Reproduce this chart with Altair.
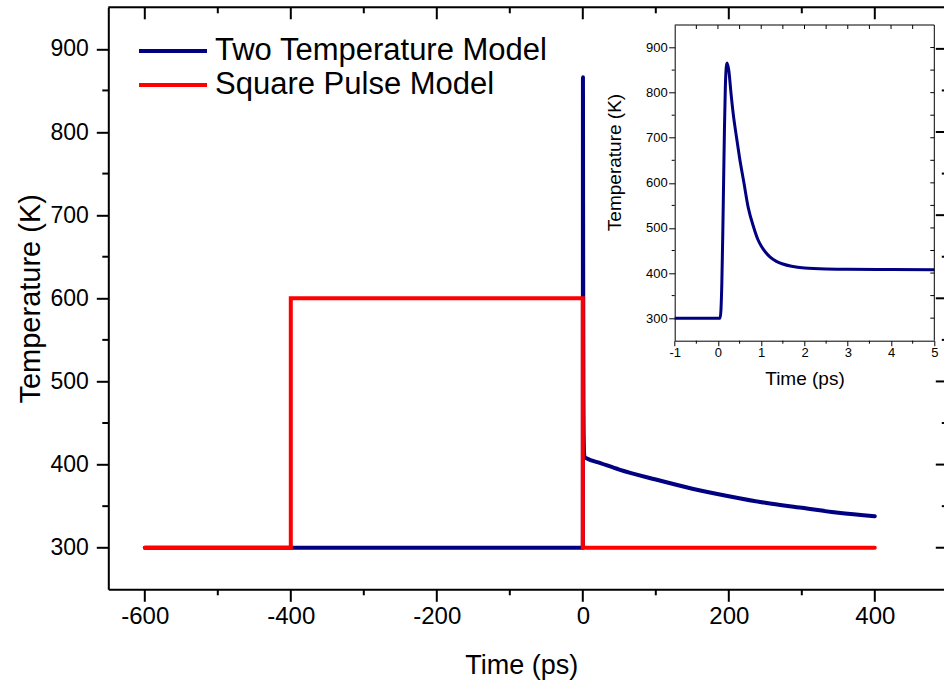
import altair as alt
import pandas as pd

NAVY = "#000080"
RED = "#ff0000"
FONT = "Liberation Sans"

series_names = ["Two Temperature Model", "Square Pulse Model"]
series_colors = [NAVY, RED]

# Two temperature model over the full time range (ps, K)
ttm_time = [-600, 0.05, 0.07, 0.09, 0.11, 0.13, 0.15, 0.17, 0.19, 0.21, 0.25,
            0.30, 0.35, 0.43, 0.50, 0.60, 0.70, 0.83, 0.92, 1.00, 1.10, 1.20, 1.35,
            1.50, 1.70, 2.00, 2.50, 3.00, 5.00, 25, 50, 100, 150, 200, 250, 300, 350, 400]
ttm_temp = [300, 300, 320, 380, 480, 600, 720, 810, 855, 866, 850,
            800, 755, 700, 655, 600, 545, 500, 475, 460, 446, 436, 426,
            420, 415, 411, 409, 408.5, 407.5, 401.5, 394, 382, 371, 362, 354, 348, 342, 338]

# Square pulse model
sq_time = [-600, -400, -400, 0, 0, 400]
sq_temp = [300, 300, 600, 600, 300, 300]

# Inset: two temperature model, -1 .. 5 ps
inset_time = [-1, 0.05, 0.07, 0.09, 0.11, 0.13, 0.15, 0.17, 0.19, 0.21, 0.25,
              0.30, 0.35, 0.43, 0.50, 0.60, 0.70, 0.83, 0.92, 1.00, 1.10, 1.20, 1.35,
              1.50, 1.70, 2.00, 2.50, 3.00, 4.00, 5.00]
inset_temp = [300, 300, 320, 380, 480, 600, 720, 810, 855, 866, 850,
              800, 755, 700, 655, 600, 545, 500, 475, 460, 446, 436, 426,
              420, 415, 411, 409, 408.5, 408, 407.5]

# axis domains and ticks
main_x_domain = [-650, 494.8]
main_x_edge = 500
main_y_domain = [250, 950]
main_x_major = [-600, -400, -200, 0, 200, 400]
main_x_minor = [-500, -300, -100, 100, 300]
main_y_major = [300, 400, 500, 600, 700, 800, 900]
main_y_minor = [350, 450, 550, 650, 750, 850]

inset_x_domain = [-1, 5]
inset_y_domain = [250, 950]
inset_x_major = [-1, 0, 1, 2, 3, 4, 5]
inset_x_minor = [-0.5, 0.5, 1.5, 2.5, 3.5, 4.5]
inset_x_all = [-0.5, 0, 0.5, 1, 1.5, 2, 2.5, 3, 3.5, 4, 4.5]
inset_y_major = [300, 400, 500, 600, 700, 800, 900]
inset_y_minor = [350, 450, 550, 650, 750, 850]
inset_y_all = [300, 350, 400, 450, 500, 550, 600, 650, 700, 750, 800, 850, 900]

XT = "Time (ps)"
YT = "Temperature (K)"

W, H = 835.7, 582.0

mx = alt.Scale(domain=main_x_domain, nice=False, zero=False)
my = alt.Scale(domain=main_y_domain, nice=False, zero=False)
ix = alt.Scale(domain=inset_x_domain, range=[566.4, 826.0], nice=False, zero=False)
iy = alt.Scale(domain=inset_y_domain, range=[333.4, 17.7], nice=False, zero=False)

ttm_df = pd.DataFrame({"t": ttm_time, "T": ttm_temp, "i": list(range(len(ttm_time))),
                       "series": series_names[0]})
sq_df = pd.DataFrame({"t": sq_time, "T": sq_temp, "i": list(range(len(sq_time))),
                      "series": series_names[1]})
inset_df = pd.DataFrame({"t": inset_time, "T": inset_temp, "i": list(range(len(inset_time)))})
one = pd.DataFrame({"k": [0]})

legend = alt.Legend(orient="none", legendX=45.7, legendY=24.7, title=None,
                    symbolType="M-2,0H2", symbolSize=1156, symbolStrokeWidth=4,
                    labelFontSize=31, labelFont=FONT, labelColor="black", labelOffset=23,
                    labelLimit=2000, rowPadding=0, padding=0)
color = alt.Color("series:N", scale=alt.Scale(domain=series_names, range=series_colors),
                  legend=legend)

main_xaxis = alt.Axis(orient="bottom", values=main_x_major, tickSize=12, tickWidth=2,
                      tickColor="black", domainWidth=2, domainColor="black",
                      labelFontSize=24, labelPadding=3, labelFlush=False, labelOverlap=False,
                      labelColor="black", labelExpr="toString(datum.value)", grid=False,
                      titleFontSize=27, titleFontWeight="normal", titleColor="black",
                      titleX=413, titleY=84.4, titleBaseline="alphabetic")
main_yaxis = alt.Axis(orient="left", values=main_y_major, tickSize=12, tickWidth=2,
                      tickColor="black", domainWidth=2, domainColor="black",
                      labelFontSize=23, labelPadding=8, labelOverlap=False,
                      labelColor="black", grid=False,
                      titleFontSize=29, titleFontWeight="normal", titleColor="black",
                      titleX=-78.3, titleBaseline="middle")

inset_xaxis = alt.Axis(orient="bottom", offset=-248.6, values=inset_x_major, tickSize=5,
                       tickWidth=1, tickColor="black", domainWidth=1, domainColor="black",
                       labelFontSize=13, labelPadding=1, labelFlush=False, labelOverlap=False,
                       labelColor="black", labelExpr="toString(datum.value)", grid=False,
                       titleFontSize=19, titleFontWeight="normal", titleColor="black",
                       titleX=696.2, titleY=44.1, titleBaseline="alphabetic")
inset_yaxis = alt.Axis(orient="left", offset=-566.4, values=inset_y_major, tickSize=6,
                       tickWidth=1, tickColor="black", domainWidth=1, domainColor="black",
                       labelFontSize=13, labelPadding=1.5, labelOverlap=False,
                       labelColor="black", grid=False,
                       titleFontSize=19, titleFontWeight="normal", titleColor="black",
                       titleX=-60, titleY=154.7, titleBaseline="middle")


def vticks(values, sx, sy, y_at, length, width):
    d = pd.DataFrame({"t": values})
    return alt.Chart(d).mark_rule(color="black", strokeWidth=width, y2Offset=length).encode(
        x=alt.X("t:Q", scale=sx, title=XT), y=alt.datum(y_at), y2=alt.datum(y_at))


def hticks(values, sx, sy, x_at, length, width):
    d = pd.DataFrame({"T": values})
    return alt.Chart(d).mark_rule(color="black", strokeWidth=width, x2Offset=length).encode(
        y=alt.Y("T:Q", scale=sy, title=YT), x=alt.datum(x_at), x2=alt.datum(x_at))


# ---------------- main plot ----------------
ttm_line = alt.Chart(ttm_df).mark_line(strokeWidth=4, strokeJoin="round", strokeCap="round",
                                       interpolate="monotone").encode(
    x=alt.X("t:Q", scale=mx, axis=main_xaxis, title=XT),
    y=alt.Y("T:Q", scale=my, axis=main_yaxis, title=YT),
    color=color, order="i:Q")
sq_line = alt.Chart(sq_df).mark_line(strokeWidth=4, strokeJoin="miter", strokeCap="round").encode(
    x=alt.X("t:Q", scale=mx, title=XT),
    y=alt.Y("T:Q", scale=my, title=YT),
    color=color, order="i:Q")
main_top = alt.Chart(one).mark_rule(color="black", strokeWidth=2).encode(
    x=alt.datum(main_x_domain[0]), x2=alt.datum(main_x_edge), y=alt.datum(main_y_domain[1]))

main = alt.layer(
    ttm_line,
    sq_line,
    main_top,
    vticks(main_x_minor, mx, my, main_y_domain[0], 6, 2),
    vticks(main_x_major, mx, my, main_y_domain[1], 12, 2),
    vticks(main_x_minor, mx, my, main_y_domain[1], 6, 2),
    hticks(main_y_minor, mx, my, main_x_domain[0], -6, 2),
    hticks(main_y_major, mx, my, main_x_edge, -12, 2),
    hticks(main_y_minor, mx, my, main_x_edge, -6, 2),
)

# ---------------- inset ----------------
inset_line = alt.Chart(inset_df).mark_line(color=NAVY, strokeWidth=3, strokeJoin="round",
                                           interpolate="monotone").encode(
    x=alt.X("t:Q", scale=ix, axis=inset_xaxis, title=XT),
    y=alt.Y("T:Q", scale=iy, axis=inset_yaxis, title=YT),
    order="i:Q")
inset_top = alt.Chart(one).mark_rule(color="black", strokeWidth=1).encode(
    x=alt.datum(inset_x_domain[0]), x2=alt.datum(inset_x_domain[1]), y=alt.datum(inset_y_domain[1]))
inset_right = alt.Chart(one).mark_rule(color="black", strokeWidth=1).encode(
    x=alt.datum(inset_x_domain[1]), y=alt.datum(inset_y_domain[0]), y2=alt.datum(inset_y_domain[1]))

inset = alt.layer(
    inset_line,
    inset_top,
    inset_right,
    vticks(inset_x_minor, ix, iy, inset_y_domain[0], 3, 1),
    vticks(inset_x_all, ix, iy, inset_y_domain[1], 4, 1),
    hticks(inset_y_minor, ix, iy, inset_x_domain[0], -3, 1),
    hticks(inset_y_all, ix, iy, inset_x_domain[1], -4, 1),
)

chart = alt.layer(main, inset).resolve_scale(
    x="independent", y="independent"
).properties(
    width=W, height=H,
    autosize=alt.AutoSizeParams(type="none"),
    padding={"left": 108.3, "top": 7.3, "right": 0, "bottom": 92.7},
).configure_view(stroke=None).configure_axis(
    labelFont=FONT, titleFont=FONT
).configure(background="white")

chart.save("out.html", embed_options={"renderer": "svg", "actions": False})
